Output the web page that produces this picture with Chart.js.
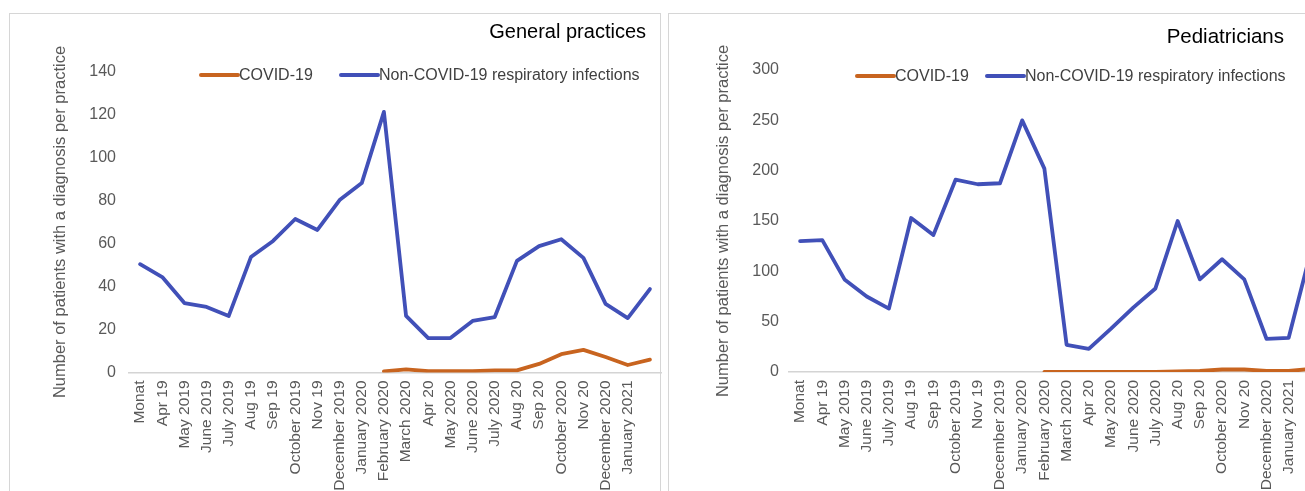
<!DOCTYPE html>
<html>
<head>
<meta charset="utf-8">
<script src="https://cdn.jsdelivr.net/npm/chart.js@4.4.1/dist/chart.umd.min.js"></script>
<style>
  html, body { margin: 0; padding: 0; overflow: hidden; background: #fff; width: 1305px; height: 491px; }
  .panel { position: absolute; top: 13px; height: 510px; border: 1.5px solid #d6d6d6; box-sizing: border-box; background: #fff; }
  .panel canvas { position: absolute; left: 0; top: 0; }
</style>
</head>
<body>
<div class="panel" id="p1" style="left:9px;width:652px;"><canvas id="chart-gp"></canvas></div>
<div class="panel" id="p2" style="left:668px;width:656px;"><canvas id="chart-ped"></canvas></div>
<script>
(function () {
  'use strict';

  var months = ['Monat', 'Apr 19', 'May 2019', 'June 2019', 'July 2019', 'Aug 19', 'Sep 19', 'October 2019',
    'Nov 19', 'December 2019', 'January 2020', 'February 2020', 'March 2020', 'Apr 20', 'May 2020',
    'June 2020', 'July 2020', 'Aug 20', 'Sep 20', 'October 2020', 'Nov 20', 'December 2020', 'January 2021', ''];

  var seriesNames = ['COVID-19', 'Non-COVID-19 respiratory infections'];

  // General practices
  var gpCovid = [null, null, null, null, null, null, null, null, null, null, null,
    0.5, 1.5, 0.6, 0.6, 0.6, 1, 1, 4, 8.5, 10.5, 7.2, 3.5, 6];
  var gpOther = [50.4, 44.4, 32.3, 30.5, 26.3, 53.7, 61.2, 71.4, 66.3, 80.2, 88.1,
    121.2, 26.3, 16, 16, 24, 25.8, 51.9, 58.8, 62, 53.3, 31.9, 25.3, 38.8];

  // Pediatricians
  var pedCovid = [null, null, null, null, null, null, null, null, null, null, null,
    0, 0, 0, 0, 0, 0, 0.5, 1, 2.5, 2.5, 1, 1, 3];
  var pedOther = [130, 131, 92, 75, 63, 153, 136, 191, 186.5, 187.5, 250,
    202, 27, 23, 43, 64, 83, 150, 92, 112, 92, 33, 34, 120];

  var colors = ['#C8641F', '#4150B8'];
  var font = '"Liberation Sans", Arial, sans-serif';

  // title + legend drawn at fixed spots, like the original Excel panels
  var decoPlugin = {
    id: 'deco',
    afterDraw: function (chart, args, o) {
      var ctx = chart.ctx;
      ctx.save();
      ctx.fillStyle = '#000';
      ctx.font = o.titleSize + 'px ' + font;
      ctx.textAlign = 'right';
      ctx.textBaseline = 'middle';
      ctx.fillText(o.title, o.titleRight, o.titleY);

      ctx.font = '16px ' + font;
      ctx.textAlign = 'left';
      chart.data.datasets.forEach(function (ds, i) {
        var x = o.legendX[i];
        ctx.strokeStyle = ds.borderColor;
        ctx.lineWidth = 4;
        ctx.lineCap = 'round';
        ctx.beginPath();
        ctx.moveTo(x, o.legendY);
        ctx.lineTo(x + 37, o.legendY);
        ctx.stroke();
        ctx.fillStyle = '#404040';
        ctx.fillText(ds.label, x + 38, o.legendY + 0.5);
      });
      ctx.restore();
    },
  };

  function makeChart(id, w, covid, other, max, step, deco, pad, titlePad) {
    var el = document.getElementById(id);
    el.width = w;
    el.height = 510;
    el.style.width = w + 'px';
    el.style.height = '510px';
    return new Chart(el, {
      type: 'line',
      data: {
        labels: months,
        datasets: [
          { label: seriesNames[0], data: covid, borderColor: colors[0], backgroundColor: colors[0] },
          { label: seriesNames[1], data: other, borderColor: colors[1], backgroundColor: colors[1] },
        ],
      },
      options: {
        responsive: false,
        animation: false,
        devicePixelRatio: 1,
        layout: { padding: { left: 0, top: pad.top, right: pad.right, bottom: 0 } },
        elements: {
          line: { borderWidth: 3.8, tension: 0, borderJoinStyle: 'round', borderCapStyle: 'round' },
          point: { radius: 0 },
        },
        plugins: { legend: { display: false }, tooltip: { enabled: false }, deco: deco },
        scales: {
          x: {
            offset: true,
            grid: { display: false, drawTicks: false },
            border: { display: true, color: '#d4d4d4', width: 1.5 },
            ticks: {
              autoSkip: false,
              minRotation: 90,
              maxRotation: 90,
              padding: 8,
              color: '#595959',
              font: { family: font, size: 15.5 },
            },
            afterFit: function (s) {
              s.height = 510 - pad.bottomY;
              s.paddingLeft = 0;
              s.paddingRight = 0;
            },
          },
          y: {
            min: 0,
            max: max,
            grid: { display: false, drawTicks: false },
            border: { display: false },
            ticks: { stepSize: step, padding: pad.tick, color: '#595959', font: { family: font, size: 16 } },
            title: {
              display: true,
              text: 'Number of patients with a diagnosis per practice',
              color: '#595959',
              font: { family: font, size: 16.5 },
              padding: { top: titlePad, bottom: 0 },
            },
            afterFit: function (s) { s.width = pad.left; },
          },
        },
      },
      plugins: [decoPlugin],
    });
  }

  makeChart('chart-gp', 652, gpCovid, gpOther, 140, 20,
    { title: 'General practices', titleSize: 20, titleRight: 636, titleY: 18, legendX: [191, 331], legendY: 61 },
    { top: 57.5, right: 1, bottomY: 358.5, left: 119, tick: 13 }, 41);

  makeChart('chart-ped', 656, pedCovid, pedOther, 300, 50,
    { title: 'Pediatricians', titleSize: 20.5, titleRight: 615, titleY: 23, legendX: [188, 318], legendY: 62 },
    { top: 56, right: 3, bottomY: 358, left: 120, tick: 10 }, 45);
})();
</script>
</body>
</html>
